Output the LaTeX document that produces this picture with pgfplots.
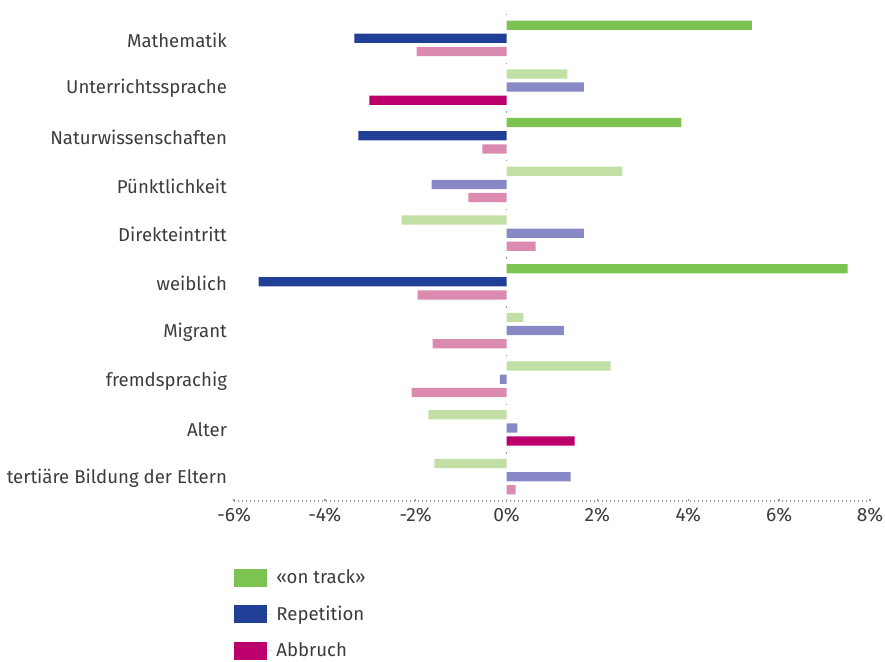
\documentclass[border=0pt]{standalone}
\usepackage{pgfplots}
\pgfplotsset{compat=1.18}
\usepackage{fontspec}
\setmainfont{Fira Sans}
\definecolor{gD}{HTML}{7DC352}
\definecolor{gL}{HTML}{C2E0A5}
\definecolor{bD}{HTML}{223F97}
\definecolor{bL}{HTML}{8788C5}
\definecolor{mD}{HTML}{BC006B}
\definecolor{mL}{HTML}{DB8BB0}
\definecolor{txt}{HTML}{3C3C3C}
\begin{document}
\begin{tikzpicture}
\begin{axis}[
  scale only axis, width=318pt, height=243.5pt,
  xbar, bar shift=0pt, bar width=0.19,
  xmin=-6, xmax=8, ymin=-0.5, ymax=9.5, y dir=reverse,
  axis x line*=bottom, axis y line*=left,
  y axis line style={draw=none},
  x axis line style={gray!80, line width=0.7pt, dash pattern=on 0.6pt off 1.4pt},
  xtick={-6,-4,-2,0,2,4,6,8},
  xticklabels={-6\%,-4\%,-2\%,0\%,2\%,4\%,6\%,8\%},
  xtick style={gray!80, line width=0.7pt},
  tick align=inside, major tick length=1.2pt,
  ytick={0,...,9},
  yticklabels={Mathematik,Unterrichtssprache,Naturwissenschaften,Pünktlichkeit,Direkteintritt,weiblich,Migrant,fremdsprachig,Alter,tertiäre Bildung der Eltern},
  ytick style={draw=none},
  yticklabel style={font=\fontsize{9.3}{11}\selectfont, text=txt, yshift=-0.8pt},
  xticklabel style={font=\fontsize{9.6}{11}\selectfont, text=txt},
  every axis plot/.append style={draw=none},
  legend style={at={(0,-0.132)}, anchor=north west, draw=none, fill=none,
    inner sep=0pt, font=\fontsize{9.3}{11}\selectfont, text=txt, row sep=5.5pt,
    legend cell align=left},
  legend image code/.code={\fill[#1] (0pt,-4.5pt) rectangle (16.5pt,4.5pt);\path (0pt,0pt) -- (19pt,0pt);},
  clip=false,
]
\draw[gray!80, line width=0.7pt, dash pattern=on 0.7pt off 23.65pt] (axis cs:0,-0.5) -- (axis cs:0,9.5);
% dark (significant)
\addplot[fill=gD] coordinates {(5.40,-0.27) (3.85,1.73) (7.51,4.73)};
\addlegendentry{«on track»}
\addplot[fill=bD] coordinates {(-3.35,0) (-3.26,2) (-5.46,5)};
\addlegendentry{Repetition}
\addplot[fill=mD] coordinates {(-3.02,1.27) (1.50,8.27)};
\addlegendentry{Abbruch}
% light (not significant)
\addplot[fill=gL, forget plot] coordinates {(1.34,0.73) (2.55,2.73) (-2.31,3.73) (0.37,5.73) (2.29,6.73) (-1.72,7.73) (-1.59,8.73)};
\addplot[fill=bL, forget plot] coordinates {(1.70,1) (-1.65,3) (1.70,4) (1.26,6) (-0.15,7) (0.24,8) (1.41,9)};
\addplot[fill=mL, forget plot] coordinates {(-1.98,0.27) (-0.53,2.27) (-0.84,3.27) (0.64,4.27) (-1.96,5.27) (-1.63,6.27) (-2.09,7.27) (0.20,9.27)};
\end{axis}
\pgfresetboundingbox
\path (-117pt,-80.5pt) rectangle (325.5pt,250.5pt);
\end{tikzpicture}
\end{document}
